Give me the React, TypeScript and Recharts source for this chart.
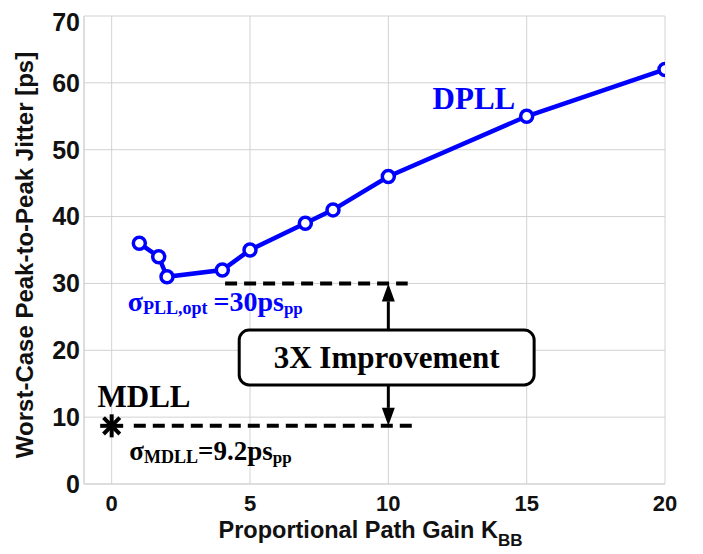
import React from 'react';
import {
  ComposedChart,
  Line,
  Scatter,
  XAxis,
  YAxis,
  CartesianGrid,
  ReferenceLine,
  ReferenceArea,
  ReferenceDot,
  Label,
} from 'recharts';

// proportional path gain vs worst-case jitter
const kbbValues = [1, 1.7, 2, 4, 5, 7, 8, 10, 15, 20];
const dpllJitter = [36, 34, 31, 32, 35, 39, 41, 46, 55, 62];
const mdllKbb = [0];
const mdllJitter = [8.7];
const xTicks = [0, 5, 10, 15, 20];
const yTicks = [0, 10, 20, 30, 40, 50, 60, 70];

const dpllData = kbbValues.map((k, i) => ({ k, j: dpllJitter[i] }));
const mdllData = mdllKbb.map((k, i) => ({ k, j: mdllJitter[i] }));

const BLUE = '#0000ff';
const GRID = '#d2d2d2';
const SANS = '"Liberation Sans", Arial, sans-serif';
const SERIF = '"Liberation Serif", "Times New Roman", serif';

const Asterisk = (props: any) => {
  const { cx, cy } = props;
  const len = 11.5;
  const angles = [0, 45, 90, 135];
  return (
    <g>
      {angles.map((a) => {
        const r = (a * Math.PI) / 180;
        const dx = Math.cos(r) * len;
        const dy = Math.sin(r) * len;
        return (
          <line key={a} x1={cx - dx} y1={cy - dy} x2={cx + dx} y2={cy + dy} stroke="#000" strokeWidth={4} />
        );
      })}
    </g>
  );
};

const Arrow = (props: any) => {
  const { x1, y1, x2, y2 } = props;
  const head = 18;
  const half = 6.5;
  const dir = y2 < y1 ? -1 : 1;
  return (
    <g>
      <line x1={x1} y1={y1} x2={x2} y2={y2 - dir * head} stroke="#000" strokeWidth={3} />
      <polygon points={`${x2},${y2} ${x2 - half},${y2 - dir * head} ${x2 + half},${y2 - dir * head}`} fill="#000" />
    </g>
  );
};

const ImprovementBox = (props: any) => {
  const { x, y, width, height } = props;
  return (
    <g>
      <rect x={x} y={y} width={width} height={height} rx={10} ry={10} fill="#fff" stroke="#000" strokeWidth={3} />
      <text
        x={x + width / 2}
        y={y + height / 2 + 10}
        textAnchor="middle"
        fontFamily={SERIF}
        fontWeight="bold"
        fontSize={31}
        fill="#000"
      >
        3X Improvement
      </text>
    </g>
  );
};

const textAt = (content: React.ReactNode, fill: string, size: number) => (props: any) => (
  <text x={props.cx} y={props.cy} fontFamily={SERIF} fontWeight="bold" fontSize={size} fill={fill}>
    {content}
  </text>
);

export default function App() {
  return (
    <ComposedChart width={695} height={546} margin={{ top: 8, right: 38, bottom: 0, left: 0 }}>
      <CartesianGrid stroke={GRID} strokeWidth={1} />
      <XAxis
        dataKey="k"
        type="number"
        domain={[-1, 20]}
        ticks={xTicks}
        allowDataOverflow
        height={70}
        tickLine={false}
        tickSize={0}
        tickMargin={11}
        axisLine={{ stroke: GRID }}
        tick={{ fontFamily: SANS, fontWeight: 'bold', fontSize: 22, fill: '#111' }}
      >
        <Label
          content={(p: any) => {
            const vb = p.viewBox;
            return (
              <text
                x={vb.x + vb.width / 2 - 4}
                y={vb.y + 54}
                textAnchor="middle"
                fontFamily={SANS}
                fontWeight="bold"
                fontSize={23.5}
                fill="#111"
              >
                Proportional Path Gain K
                <tspan fontSize={17} dy={8}>BB</tspan>
              </text>
            );
          }}
        />
      </XAxis>
      <YAxis
        type="number"
        domain={[0, 70]}
        ticks={yTicks}
        width={76}
        tickLine={false}
        tickSize={0}
        tickMargin={4}
        axisLine={{ stroke: GRID }}
        tick={{ fontFamily: SANS, fontWeight: 'bold', fontSize: 25, fill: '#111' }}
      >
        <Label
          content={(p: any) => {
            const vb = p.viewBox;
            const cx = vb.x + 25;
            const cy = vb.y + vb.height / 2 + 5;
            return (
              <text
                x={cx}
                y={cy}
                transform={`rotate(-90 ${cx} ${cy})`}
                textAnchor="middle"
                fontFamily={SANS}
                fontWeight="bold"
                fontSize={24}
                fill="#111"
              >
                Worst-Case Peak-to-Peak Jitter [ps]
              </text>
            );
          }}
        />
      </YAxis>

      <ReferenceLine
        segment={[{ x: 4.1, y: 30 }, { x: 10.7, y: 30 }]}
        stroke="#000"
        strokeWidth={4}
        strokeDasharray="12 7"
      />
      <ReferenceLine
        segment={[{ x: 0.8, y: 8.7 }, { x: 10.9, y: 8.7 }]}
        stroke="#000"
        strokeWidth={4}
        strokeDasharray="12 7"
      />
      <ReferenceLine segment={[{ x: 10, y: 23.03 }, { x: 10, y: 30 }]} shape={Arrow} />
      <ReferenceLine segment={[{ x: 10, y: 14.81 }, { x: 10, y: 8.7 }]} shape={Arrow} />
      <ReferenceArea x1={4.61} x2={15.27} y1={14.81} y2={23.03} shape={ImprovementBox} />

      <Line
        data={dpllData}
        dataKey="j"
        stroke={BLUE}
        strokeWidth={4.5}
        dot={{ r: 6, fill: '#fff', stroke: BLUE, strokeWidth: 3.5 }}
        activeDot={false}
        isAnimationActive={false}
      />
      <Scatter data={mdllData} dataKey="j" shape={Asterisk} isAnimationActive={false} />

      <ReferenceDot x={11.6} y={56.1} r={0} shape={textAt('DPLL', BLUE, 31)} />
      <ReferenceDot x={-0.51} y={11.56} r={0} shape={textAt('MDLL', '#000', 31)} />
      <ReferenceDot
        x={0.58}
        y={25.83}
        r={0}
        shape={textAt(
          <>
            σ<tspan fontSize={18} dy={3}>PLL,opt</tspan>
            <tspan dx={6} dy={-3}>=30ps</tspan>
            <tspan fontSize={17} dy={3}>pp</tspan>
          </>,
          BLUE,
          28
        )}
      />
      <ReferenceDot
        x={0.64}
        y={3.66}
        r={0}
        shape={textAt(
          <>
            σ<tspan fontSize={18} dy={3}>MDLL</tspan>
            <tspan dy={-3}>=9.2ps</tspan>
            <tspan fontSize={17} dy={3}>pp</tspan>
          </>,
          '#000',
          27
        )}
      />
    </ComposedChart>
  );
}
